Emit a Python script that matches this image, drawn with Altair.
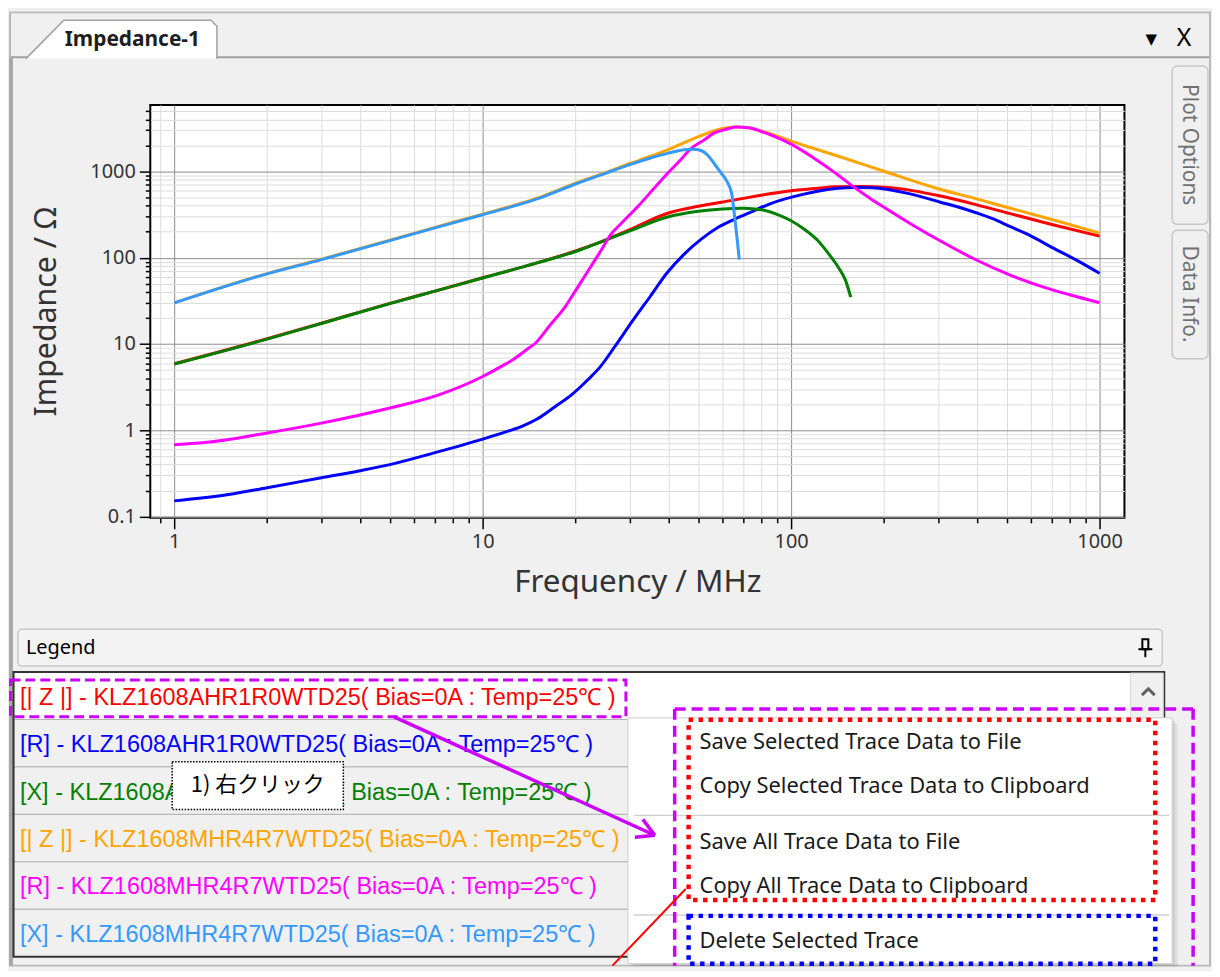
import altair as alt
import pandas as pd

# ---------------- data ----------------
series_names = [
    "[| Z |] - KLZ1608AHR1R0WTD25( Bias=0A : Temp=25℃ )",
    "[R] - KLZ1608AHR1R0WTD25( Bias=0A : Temp=25℃ )",
    "[X] - KLZ1608AHR1R0WTD25( Bias=0A : Temp=25℃ )",
    "[| Z |] - KLZ1608MHR4R7WTD25( Bias=0A : Temp=25℃ )",
    "[R] - KLZ1608MHR4R7WTD25( Bias=0A : Temp=25℃ )",
    "[X] - KLZ1608MHR4R7WTD25( Bias=0A : Temp=25℃ )",
]
series_colors = ["#ff0000", "#0000ff", "#008000", "#ffa500", "#ff00ff", "#3399ff"]

# |Z| KLZ1608AHR1R0
freq_za = [1, 2, 3, 5, 7, 10, 15, 20, 25, 30, 40, 50, 65, 80, 100, 120, 140, 170, 200, 250, 300, 400, 500, 700, 1000]
imp_za = [5.9, 11.5, 17.4, 29.6, 41, 58.5, 87, 120, 160, 212, 330, 395, 465, 530, 596, 635, 663, 668, 655, 595, 525, 410, 332, 243, 178]
# R KLZ1608AHR1R0
freq_ra = [1, 1.5, 2, 3, 4, 5, 7, 10, 12, 13.4, 15, 17.2, 19.4, 22, 24, 26.8, 30.6, 35, 39.5, 45, 51, 58, 65.8, 75, 85, 110, 142, 160, 183, 237, 305, 350, 400, 450, 509, 600, 700, 850, 1000]
imp_ra = [0.152, 0.18, 0.216, 0.282, 0.34, 0.40, 0.55, 0.79, 0.97, 1.11, 1.35, 1.89, 2.57, 3.9, 5.4, 9.3, 18.5, 36, 66, 110, 163, 225, 281, 345, 419, 546, 640, 652, 645, 560, 440, 385, 330, 283, 232, 178, 132, 92, 66]
# X KLZ1608AHR1R0
freq_xa = [1, 2, 3, 5, 7, 10, 15, 20, 25, 30, 40, 50, 60, 70, 80, 90, 100, 110, 122, 132, 142, 150, 156]
imp_xa = [5.86, 11.4, 17.3, 29.4, 41, 58.2, 87, 118, 160, 205, 298, 345, 368, 375, 360, 318, 268, 215, 158, 112, 78, 55, 35]
# |Z| KLZ1608MHR4R7
freq_zm = [1, 2, 3, 5, 7, 10, 15, 20, 25, 30, 35, 40, 45, 51, 56, 61, 65, 68, 72, 77, 85, 100, 120, 150, 200, 300, 400, 500, 700, 1000]
imp_zm = [30, 65.5, 96, 160, 225, 320, 490, 730, 965, 1236, 1500, 1793, 2154, 2600, 2950, 3180, 3260, 3270, 3220, 3067, 2750, 2250, 1820, 1413, 1005, 630, 480, 385, 277, 193]
# R KLZ1608MHR4R7
freq_rm = [1, 1.3, 2, 3, 5, 7.2, 10, 11.5, 12.7, 14, 14.8, 16.5, 18.5, 20, 22, 24, 26, 28, 32, 36, 39.5, 44, 47, 52, 56.5, 61, 66, 73, 80, 85, 100, 120, 140, 157, 180, 203, 250, 305, 394, 509, 658, 800, 1000]
imp_rm = [0.68, 0.73, 0.93, 1.21, 1.81, 2.57, 4.2, 5.5, 6.8, 8.8, 10.2, 16.4, 26.9, 41.6, 71, 116, 185, 246, 400, 641, 929, 1388, 1803, 2290, 2810, 3050, 3265, 3210, 2900, 2687, 2071, 1386, 943, 689, 490, 372, 235, 156, 96, 63.7, 45.6, 37.2, 30.1]
# X KLZ1608MHR4R7
freq_xm = [1, 2, 3, 5, 7, 10, 15, 20, 25, 30, 35, 40, 45, 48, 51, 54, 56.5, 59, 61.8, 64.2, 65.8, 67, 67.9]
imp_xm = [29.9, 65, 95, 158, 222, 315, 480, 715, 950, 1200, 1430, 1630, 1780, 1810, 1750, 1500, 1211, 980, 777, 546, 269, 150, 95]

x_ticks = [0.9] + [k * 10 ** e for e in range(0, 3) for k in range(1, 10)] + [1000]
y_ticks = [round(k * 10.0 ** e, 6) for e in (-1, 0, 1, 2) for k in range(1, 10)] + [1000, 2000, 3000, 4000, 5000]

menu_items = [
    "Save Selected Trace Data to File",
    "Copy Selected Trace Data to Clipboard",
    "Save All Trace Data to File",
    "Copy All Trace Data to Clipboard",
    "Delete Selected Trace",
]

tab_title = "Impedance-1"
side_tabs = ["Plot Options", "Data Info."]
legend_header = "Legend"
callout_text = "1) 右クリック"

# ---------------- tables ----------------
curves = [(freq_za, imp_za), (freq_ra, imp_ra), (freq_xa, imp_xa),
          (freq_zm, imp_zm), (freq_rm, imp_rm), (freq_xm, imp_xm)]
rows = []
for name, (fs, zs) in zip(series_names, curves):
    for f, z in zip(fs, zs):
        rows.append({"series": name, "f": f, "z": z})
df = pd.DataFrame(rows)
legend_df = pd.DataFrame({"series": series_names})
one = pd.DataFrame({"k": [0]})

UI = "Noto Sans"
ROWFONT = "Liberation Sans"

# ---------------- helpers for UI decoration ----------------
def rect(x, x2, y, y2, **kw):
    return alt.Chart(one).mark_rect(**kw).encode(
        x=alt.value(x), x2=alt.value(x2), y=alt.value(y), y2=alt.value(y2))

def rule(x, y, x2, y2, **kw):
    return alt.Chart(one).mark_rule(**kw).encode(
        x=alt.value(x), y=alt.value(y), x2=alt.value(x2), y2=alt.value(y2))

def label(x, y, s, **kw):
    kw.setdefault("baseline", "middle")
    return alt.Chart(one).mark_text(text=s, **kw).encode(x=alt.value(x), y=alt.value(y))

def shape(x, y, path, size, **kw):
    return alt.Chart(one).mark_point(shape=path, size=size, opacity=1, **kw).encode(
        x=alt.value(x), y=alt.value(y))

# ---------------- panel 1: impedance plot ----------------
MAJOR = "abs(log(datum.value)/LN10 - round(log(datum.value)/LN10)) < 0.001"

def make_axis(vals, title, ext, tpad, lpad, tsize):
    return alt.Axis(
        values=vals, title=title,
        labelExpr=f"({MAJOR}) ? format(datum.value, '~g') : ''",
        grid=True,
        gridColor={"condition": {"test": MAJOR, "value": "#8c8c8c"}, "value": "#dcdcdc"},
        gridWidth=1,
        tickSize={"condition": {"test": MAJOR, "value": 11}, "value": 5},
        tickColor="#000000", tickWidth=1.5, domain=False,
        labelFont=UI, labelFontSize=20, labelColor="#333333", labelPadding=lpad,
        labelOverlap=False, labelFlush=False,
        titleFont=UI, titleFontSize=tsize, titleFontWeight="normal", titleColor="#333333",
        titlePadding=tpad, minExtent=ext, maxExtent=ext,
    )

xs = alt.Scale(type="log", domain=[0.836, 1204], nice=False)
ys = alt.Scale(type="log", domain=[0.0966, 5900], nice=False)
cs = alt.Scale(domain=series_names, range=series_colors)

xe = alt.X("f:Q", scale=xs, axis=make_axis(x_ticks, "Frequency / MHz", 38, 11, 3, 31.5))
ye = alt.Y("z:Q", scale=ys, axis=make_axis(y_ticks, "Impedance / Ω", 48, 41, 4, 30.5))
ce = alt.Color("series:N", scale=cs, legend=None)

deco1 = [
    rect(-141, 1065, -93, 865, fillOpacity=0, stroke="#b9b9b9", strokeWidth=2),
    rect(-142, -138, -47, 865, fill="#a8a8a8"),
    rule(-140, -48, 1064, -48, stroke="#a0a0a0", strokeWidth=2),
    shape(-29, -66, "M-0.96,0.195L-0.58,-0.19L0.9,-0.19L0.96,-0.13L0.96,0.195", 40000,
          filled=True, fill="#ffffff", stroke="#a0a0a0", strokeWidth=1.5),
    label(-86, -65, tab_title, align="left", font=UI, fontSize=21, fontWeight="bold", color="#1e1e1e"),
    label(1006, -66, "▼", align="center", font="DejaVu Sans", fontSize=15, color="#000000"),
    label(1039, -67, "X", align="center", font=UI, fontSize=25, color="#000000"),
    rect(1027, 1063, -39, 120, fill="#f0f0f0", stroke="#c8c8c8", strokeWidth=1.5, cornerRadius=5),
    label(1044, 40, side_tabs[0], align="center", angle=90, font=UI, fontSize=21, color="#707070"),
    rect(1027, 1063, 126, 255, fill="#f0f0f0", stroke="#c8c8c8", strokeWidth=1.5, cornerRadius=5),
    label(1044, 190, side_tabs[1], align="center", angle=90, font=UI, fontSize=21, color="#707070"),
]

curve_layers = []
for name in series_names:
    curve_layers.append(
        alt.Chart(df)
        .transform_filter(alt.FieldEqualPredicate(field="series", equal=name))
        .mark_line(strokeWidth=3, interpolate="monotone", clip=True)
        .encode(x=xe, y=ye, color=ce)
    )

p1 = alt.layer(*deco1, *curve_layers).properties(
    width=979, height=415,
    view=alt.ViewBackground(fill="#ffffff", stroke="#000000", strokeWidth=2),
)

# ---------------- panel 2: legend list + context menu ----------------
band = alt.Scale(domain=series_names, paddingInner=0, paddingOuter=0)
row_fill = alt.when(alt.FieldEqualPredicate(field="series", equal=series_names[0])).then(
    alt.value("#ffffff")).otherwise(alt.value("#f0f0f0"))

rows_rect = alt.Chart(legend_df).mark_rect(stroke="#b4b4b4", strokeWidth=1).encode(
    x=alt.value(-137), x2=alt.value(1018),
    y=alt.Y("series:N", scale=band, axis=None),
    fill=row_fill,
)
rows_text = alt.Chart(legend_df).mark_text(
    align="left", baseline="middle", font=ROWFONT, fontSize=23.6, dy=2
).encode(
    x=alt.value(-131),
    y=alt.Y("series:N", scale=band, axis=None, bandPosition=0.5),
    text="series:N",
    color=ce,
)

MAG = "#cc00ff"
menu_y = [70, 115, 171, 215, 270]
deco2_back = [
    rect(-133, 1017, -43, -6, fill="#f3f3f3", stroke="#c8c8c8", strokeWidth=1.5, cornerRadius=4),
    label(-125, -24, legend_header, align="left", font=UI, fontSize=20, color="#000000"),
    rect(997, 1003, -33, -23, fillOpacity=0, stroke="#000000", strokeWidth=2),
    rule(993, -23, 1007, -23, stroke="#000000", strokeWidth=2),
    rule(1000, -23, 1000, -15, stroke="#000000", strokeWidth=2),
]
deco2_front = [
    rect(-137.5, 1019, 0, 286, fillOpacity=0, stroke="#333333", strokeWidth=2),
    rect(985, 1018, 1, 47, fill="#f0f0f0", stroke="#d8d8d8", strokeWidth=1),
    shape(1003, 20, "M-0.8,0.4L0,-0.4L0.8,0.4", 256, filled=False, stroke="#606060", strokeWidth=3),
    rect(-140.5, 478, 8, 45, fillOpacity=0, stroke=MAG, strokeWidth=3, strokeDash=[10, 5]),
    rect(22, 194, 90, 138, fill="#ffffff", stroke="#000000", strokeWidth=1.5, strokeDash=[1.5, 1.5]),
    label(108, 114, callout_text, align="center", font="Noto Sans CJK JP", fontSize=22, color="#000000"),
    rect(486, 1033, 52, 296, fill="#000000", opacity=0.06),
    rect(483, 1030, 49, 295, fill="#000000", opacity=0.08),
    rect(480, 1027, 46, 293, fill="#ffffff", stroke="#cccccc", strokeWidth=1),
]
for item, yy in zip(menu_items, menu_y):
    deco2_front.append(label(552, yy, item, align="left", font=UI, fontSize=22, color="#1a1a1a"))
deco2_front += [
    rule(486, 144, 1024, 144, stroke="#d0d0d0", strokeWidth=1.5),
    rule(486, 244, 1024, 244, stroke="#d0d0d0", strokeWidth=1.5),
    rect(541, 1010, 48, 229, fillOpacity=0, stroke="#ff0000", strokeWidth=4.5, strokeDash=[4.5, 5.5]),
    rect(541, 1010, 245, 293, fillOpacity=0, stroke="#0000ff", strokeWidth=4.5, strokeDash=[4.5, 5.5]),
    rule(527, 37, 1048, 37, stroke=MAG, strokeWidth=3.5, strokeDash=[11, 6]),
    rule(527, 37, 527, 295, stroke=MAG, strokeWidth=3.5, strokeDash=[11, 6]),
    rule(1048, 37, 1048, 295, stroke=MAG, strokeWidth=3.5, strokeDash=[11, 6]),
    rule(245, 45, 507, 164, stroke=MAG, strokeWidth=3.5),
    rule(507, 164, 495, 148, stroke=MAG, strokeWidth=3.5),
    rule(507, 164, 487, 166, stroke=MAG, strokeWidth=3.5),
    rule(538, 218, 464.5, 295, stroke="#ff0000", strokeWidth=2),
]

p2 = alt.layer(*deco2_back, rows_rect, rows_text, *deco2_front).properties(
    width=1019, height=286,
    view=alt.ViewBackground(stroke="transparent"),
)

chart = alt.vconcat(p1, p2, spacing=155, bounds="flush", padding=0, background="#f0f0f0")

chart.save("out.html", embed_options={"renderer": "svg", "actions": False})
